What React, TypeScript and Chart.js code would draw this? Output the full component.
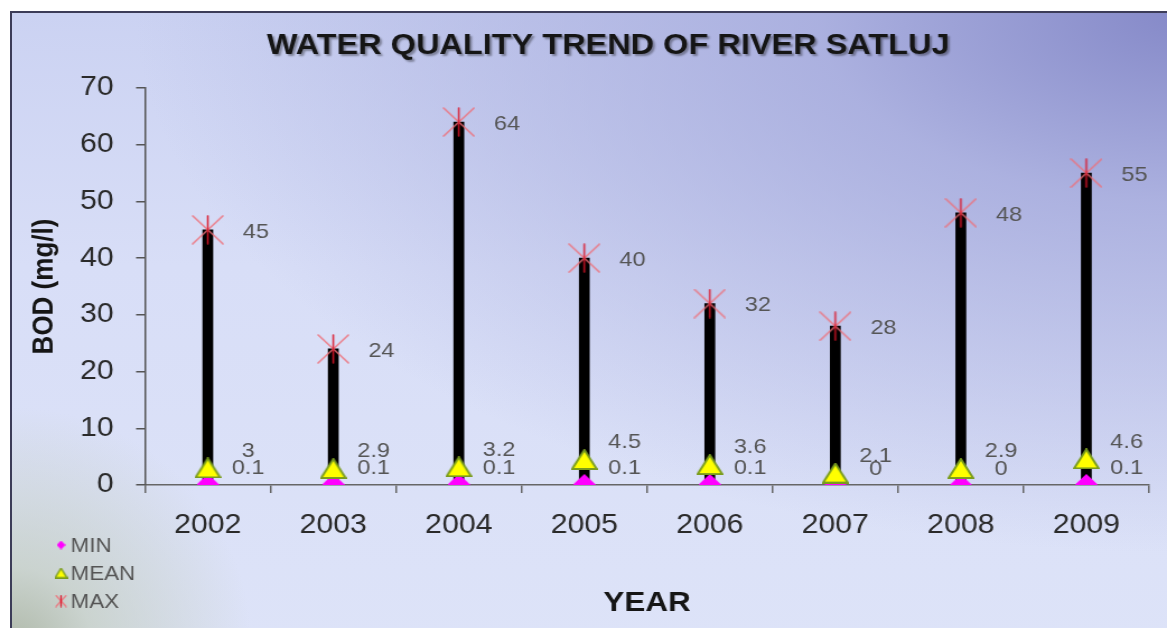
import React, { useEffect, useRef } from "react";
import { Chart, registerables } from "chart.js";

Chart.register(...registerables);

// ---------------- data ----------------
const years = ["2002", "2003", "2004", "2005", "2006", "2007", "2008", "2009"];
const minValues = [0.1, 0.1, 0.1, 0.1, 0.1, 0, 0, 0.1];
const meanValues = [3, 2.9, 3.2, 4.5, 3.6, 2.1, 2.9, 4.6];
const maxValues = [45, 24, 64, 40, 32, 28, 48, 55];
const yTickValues = [0, 10, 20, 30, 40, 50, 60, 70];
const titleText = "WATER QUALITY TREND OF RIVER SATLUJ";
const xTitle = "YEAR";
const yTitle = "BOD (mg/l)";
const legendNames = ["MIN", "MEAN", "MAX"];

// ---------------- layout ----------------
const W = 1167;
const H = 628;
const SX = 1.12; // horizontal stretch of the original picture
const CW = Math.round(W / SX);
const FONT = "'Liberation Sans', Arial, Helvetica, sans-serif";

function makeTriangle(w: number, h: number, lw: number) {
  const c = document.createElement("canvas");
  c.width = w;
  c.height = h;
  const ctx = c.getContext("2d")!;
  ctx.beginPath();
  ctx.moveTo(w / 2, lw / 2);
  ctx.lineTo(w - lw / 2, h - lw / 2);
  ctx.lineTo(lw / 2, h - lw / 2);
  ctx.closePath();
  ctx.fillStyle = "#ffff00";
  ctx.fill();
  ctx.lineWidth = lw;
  ctx.strokeStyle = "#7a9c1e";
  ctx.stroke();
  return c;
}

function makeDiamond(w: number, h: number) {
  const c = document.createElement("canvas");
  c.width = w;
  c.height = h;
  const ctx = c.getContext("2d")!;
  ctx.beginPath();
  ctx.moveTo(w / 2, 0);
  ctx.lineTo(w, h / 2);
  ctx.lineTo(w / 2, h);
  ctx.lineTo(0, h / 2);
  ctx.closePath();
  ctx.fillStyle = "#ff00ff";
  ctx.fill();
  return c;
}

function makeStar(w: number, h: number, lw: number) {
  const c = document.createElement("canvas");
  c.width = w;
  c.height = h;
  const ctx = c.getContext("2d")!;
  ctx.lineCap = "round";
  ctx.lineWidth = lw;
  ctx.strokeStyle = "rgba(238,110,120,0.85)";
  ctx.beginPath();
  ctx.moveTo(1, 1);
  ctx.lineTo(w - 1, h - 1);
  ctx.moveTo(w - 1, 1);
  ctx.lineTo(1, h - 1);
  ctx.stroke();
  ctx.strokeStyle = "rgba(220,20,40,0.9)";
  ctx.beginPath();
  ctx.moveTo(w / 2, 1);
  ctx.lineTo(w / 2, h - 1);
  ctx.stroke();
  return c;
}

export default function App() {
  const ref = useRef<HTMLCanvasElement | null>(null);

  useEffect(() => {
    const canvas = ref.current;
    if (!canvas) return;

    const tri = makeTriangle(24, 21, 2);
    const dia = makeDiamond(20, 21);
    const star = makeStar(29, 30, 1.6);
    const triS = makeTriangle(12, 11, 1.5);
    const diaS = makeDiamond(8, 9);
    const starS = makeStar(11, 13, 1.4);

    const labelOffsets: Record<string, [number, number]> = {
      MAX: [43, 2],
      MEAN: [36, -17],
      MIN: [36, -16],
    };

    const titlePlugin = {
      id: "customTitle",
      afterDraw(chart: any) {
        const ctx = chart.ctx;
        ctx.save();
        ctx.font = `bold 29px ${FONT}`;
        ctx.textAlign = "center";
        ctx.textBaseline = "middle";
        ctx.shadowColor = "rgba(0,0,0,0.35)";
        ctx.shadowOffsetX = 2;
        ctx.shadowOffsetY = 2;
        ctx.shadowBlur = 2;
        ctx.fillStyle = "#151515";
        ctx.fillText(titleText, 543, 46);
        ctx.restore();
      },
    };

    const labelPlugin = {
      id: "valueLabels",
      afterDatasetsDraw(chart: any) {
        const ctx = chart.ctx;
        ctx.save();
        ctx.font = `21px ${FONT}`;
        ctx.fillStyle = "#555";
        ctx.textAlign = "center";
        ctx.textBaseline = "middle";
        chart.data.datasets.forEach((ds: any, i: number) => {
          const off = labelOffsets[ds.label];
          if (!off) return;
          const meta = chart.getDatasetMeta(i);
          meta.data.forEach((el: any, j: number) => {
            ctx.fillText(String(ds.data[j]), el.x + off[0], el.y + off[1]);
          });
        });
        ctx.restore();
      },
    };

    const legendPlugin = {
      id: "customLegend",
      afterDraw(chart: any) {
        const ctx = chart.ctx;
        const icons = [diaS, triS, starS];
        const ys = [545, 573, 601];
        ctx.save();
        ctx.font = `20px ${FONT}`;
        ctx.fillStyle = "#555";
        ctx.textAlign = "left";
        ctx.textBaseline = "middle";
        legendNames.forEach((name, i) => {
          const ic = icons[i];
          ctx.drawImage(ic, 54.5 - ic.width / 2, ys[i] - ic.height / 2);
          ctx.fillText(name, 63, ys[i] + 1);
        });
        ctx.restore();
      },
    };

    const chart = new Chart(canvas, {
      type: "bar",
      data: {
        labels: years,
        datasets: [
          {
            type: "line",
            label: "MAX",
            data: maxValues,
            showLine: false,
            pointStyle: star as any,
            pointRadius: 15,
            order: 1,
          } as any,
          {
            type: "line",
            label: "MEAN",
            data: meanValues,
            showLine: false,
            pointStyle: tri as any,
            pointRadius: 12,
            order: 2,
          } as any,
          {
            type: "line",
            label: "MIN",
            data: minValues,
            showLine: false,
            pointStyle: dia as any,
            pointRadius: 10,
            order: 3,
          } as any,
          {
            type: "bar",
            label: "RANGE",
            data: years.map((_, i) => [minValues[i], maxValues[i]]),
            backgroundColor: "#000",
            barThickness: 9,
            order: 4,
          } as any,
        ],
      },
      options: {
        animation: false,
        responsive: false,
        devicePixelRatio: 1,
        layout: { padding: { top: 88, right: 11, left: 0, bottom: 0 } },
        plugins: {
          legend: { display: false },
          tooltip: { enabled: false },
          title: { display: false },
        },
        scales: {
          x: {
            offset: true,
            grid: {
              offset: true,
              drawOnChartArea: false,
              tickLength: 8,
              color: "#666",
              lineWidth: 1.5,
            },
            border: { color: "#666", width: 1.5 },
            ticks: {
              font: { size: 27, family: FONT },
              color: "#2a2a2a",
              padding: 16,
            },
            title: {
              display: true,
              text: xTitle,
              font: { size: 28, weight: "bold", family: FONT },
              color: "#151515",
              padding: { top: 0, bottom: 8 },
            },
            afterFit: (s: any) => {
              s.height = 143;
            },
          },
          y: {
            min: 0,
            max: 70,
            afterBuildTicks: (s: any) => {
              s.ticks = yTickValues.map((v) => ({ value: v }));
            },
            grid: {
              drawOnChartArea: false,
              tickLength: 8,
              color: "#555",
              lineWidth: 1.5,
            },
            border: { color: "#555", width: 1.5 },
            ticks: {
              font: { size: 27, family: FONT },
              color: "#2a2a2a",
              padding: 20,
            },
            title: {
              display: true,
              text: yTitle,
              font: { size: 26, weight: "bold", family: FONT },
              color: "#151515",
              padding: { top: 24, bottom: 0 },
            },
            afterFit: (s: any) => {
              s.width = 129.5;
            },
          },
        },
      } as any,
      plugins: [labelPlugin, titlePlugin, legendPlugin],
    });

    return () => chart.destroy();
  }, []);

  return (
    <div
      style={{
        position: "absolute",
        left: 0,
        top: 0,
        width: W,
        height: H,
        overflow: "hidden",
        background: "#fff",
      }}
    >
      <div
        style={{
          position: "absolute",
          left: 10,
          top: 11,
          width: W + 10,
          height: H + 10,
          boxSizing: "border-box",
          border: "2px solid #3c3c58",
          background:
            "radial-gradient(circle at 0% 100%, rgba(170,180,160,0.9) 0px, rgba(195,205,190,0.7) 80px, rgba(210,218,228,0) 240px)," +
            "radial-gradient(ellipse 1050px 540px at 100% 0%, #8589c8 0%, rgba(165,170,220,0.85) 35%, rgba(213,219,246,0) 100%)," +
            "linear-gradient(to bottom, #cbd2f2 0%, #d8def7 40%, #dde3f8 100%)",
        }}
      />
      <canvas
        ref={ref}
        width={CW}
        height={H}
        style={{
          position: "absolute",
          left: 0,
          top: 0,
          width: W + "px",
          height: H + "px",
        }}
      />
    </div>
  );
}
